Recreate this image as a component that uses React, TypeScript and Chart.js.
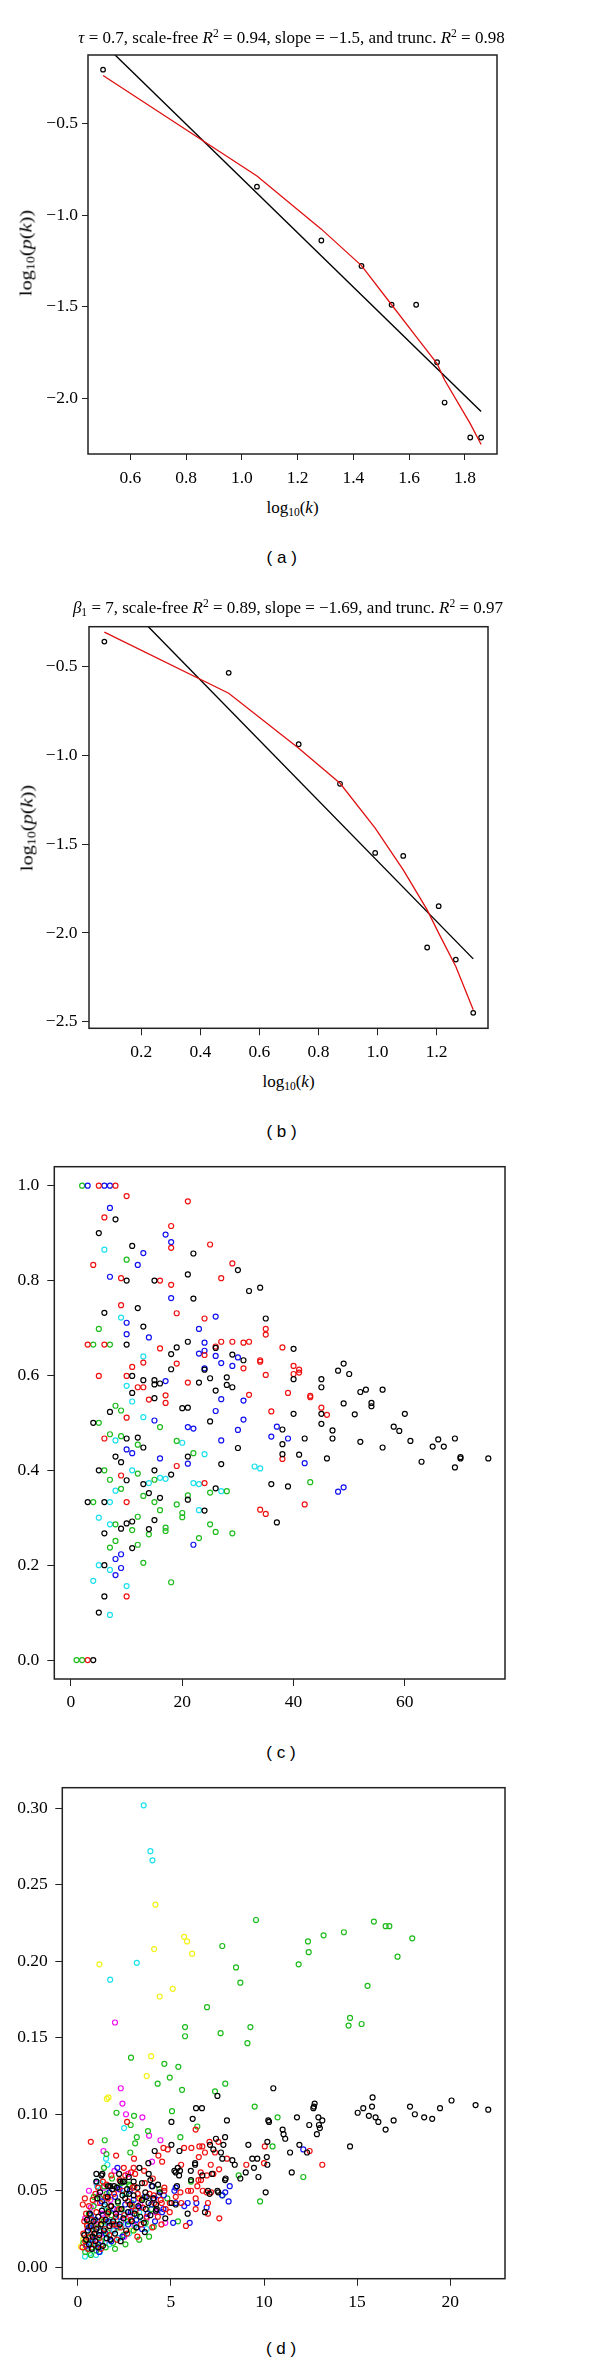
import React, { useEffect, useRef } from "react";
import { Chart, registerables } from "chart.js";

Chart.register(...registerables);

// ---------------- Panel (a) ----------------
const aLogK = [0.502, 1.054, 1.285, 1.429, 1.537, 1.625, 1.7, 1.727, 1.819, 1.858];
const aLogP = [-0.205, -0.844, -1.138, -1.277, -1.489, -1.489, -1.803, -2.023, -2.214, -2.214];
const aTruncFit = [-0.237, -0.786, -1.076, -1.275, -1.489, -1.663, -1.81, -1.9, -2.138, -2.252];
const aScaleFreeX = [0.502, 1.858];
const aScaleFreeY = [-0.061, -2.072];
const aXTicks = [0.6, 0.8, 1.0, 1.2, 1.4, 1.6, 1.8];
const aYTicks = [-2.0, -1.5, -1.0, -0.5];

// ---------------- Panel (b) ----------------
const bLogK = [0.075, 0.496, 0.733, 0.873, 0.992, 1.087, 1.168, 1.207, 1.265, 1.324];
const bLogP = [-0.359, -0.535, -0.937, -1.16, -1.549, -1.566, -2.082, -1.849, -2.15, -2.45];
const bTruncFit = [-0.306, -0.65, -0.96, -1.157, -1.41, -1.645, -1.87, -2.001, -2.189, -2.433];
const bScaleFreeX = [0.075, 1.324];
const bScaleFreeY = [-0.022, -2.146];
const bXTicks = [0.2, 0.4, 0.6, 0.8, 1.0, 1.2];
const bYTicks = [-2.5, -2.0, -1.5, -1.0, -0.5];

// ---------------- Panel (c) ----------------
const cBlack: [number, number][] = [
  [4, 0], [5, 0.9], [8, 0.929], [11, 0.873], [22, 0.857], [30, 0.822], [21, 0.813], [10, 0.8], [15, 0.8],
  [32, 0.778], [34, 0.785], [22, 0.762], [12, 0.742], [6, 0.732], [35, 0.72], [13, 0.703], [10, 0.665],
  [19, 0.659], [21, 0.671], [40, 0.656], [18, 0.645], [26, 0.658], [29, 0.644], [31, 0.632],
  [11, 0.599], [13, 0.59], [15, 0.59], [15, 0.581], [16, 0.583], [18, 0.613], [23, 0.585], [24, 0.612],
  [25, 0.594], [28, 0.596], [28, 0.58], [29, 0.575], [26, 0.568], [40, 0.592], [48, 0.61], [49, 0.625],
  [50, 0.603], [45, 0.592], [45, 0.575], [11, 0.563], [15, 0.552], [20, 0.531], [21, 0.532], [52, 0.565],
  [53, 0.57], [49, 0.541], [54, 0.542], [54, 0.535], [56, 0.57], [7, 0.523], [25, 0.503], [45, 0.519],
  [40, 0.519], [51, 0.518], [60, 0.519], [4, 0.5], [45, 0.498], [38, 0.486], [47, 0.484], [58, 0.492],
  [59, 0.483], [10, 0.467], [12, 0.469], [13, 0.448], [38, 0.455], [42, 0.467], [47, 0.467], [52, 0.46],
  [30, 0.447], [56, 0.448], [61, 0.462], [65, 0.45], [66, 0.465], [67, 0.45], [69, 0.467], [8, 0.429],
  [9, 0.417], [21, 0.429], [27, 0.413], [38, 0.434], [41, 0.433], [46, 0.425], [63, 0.418], [69, 0.406],
  [70, 0.428], [70, 0.425], [75, 0.425], [5, 0.4], [10, 0.379], [15, 0.4], [13, 0.371], [18, 0.391],
  [36, 0.371], [39, 0.366], [26, 0.362], [14, 0.352], [16, 0.342], [21, 0.338], [3, 0.333], [6, 0.333],
  [24, 0.315], [15, 0.295], [11, 0.292], [10, 0.288], [37, 0.29], [9, 0.277], [14, 0.276], [6, 0.267],
  [11, 0.236], [6, 0.2], [6, 0.134], [5, 0.1],
];
const cRed: [number, number][] = [
  [3, 0], [5, 1.0], [8, 1.0], [10, 0.978], [21, 0.967], [6, 0.933], [18, 0.915], [18, 0.869], [25, 0.876],
  [4, 0.833], [29, 0.836], [9, 0.805], [16, 0.8], [18, 0.791], [27, 0.805], [9, 0.748], [19, 0.731],
  [24, 0.72], [35, 0.698], [35, 0.686], [3, 0.665], [6, 0.665], [16, 0.657], [27, 0.671], [29, 0.671],
  [31, 0.669], [32, 0.671], [38, 0.659], [24, 0.643], [26, 0.661], [34, 0.632],
  [5, 0.599], [10, 0.599], [11, 0.618], [13, 0.627], [12, 0.575], [13, 0.575], [19, 0.625], [21, 0.585],
  [31, 0.615], [34, 0.629], [35, 0.601], [40, 0.62], [40, 0.603], [41, 0.612], [41, 0.606], [14, 0.549],
  [17, 0.558], [17, 0.542], [32, 0.559], [39, 0.563], [43, 0.557], [43, 0.554], [10, 0.511], [36, 0.524],
  [45, 0.532], [46, 0.517], [6, 0.467], [38, 0.424], [9, 0.389], [19, 0.409], [24, 0.373], [34, 0.317],
  [35, 0.308], [42, 0.328], [10, 0.333], [10, 0.134],
];
const cGreen: [number, number][] = [
  [1, 0], [2, 0], [2, 1.0], [10, 0.844], [5, 0.698], [4, 0.665], [7, 0.665], [8, 0.536], [9, 0.526],
  [5, 0.5], [16, 0.491], [7, 0.476], [9, 0.472], [12, 0.454], [19, 0.462], [22, 0.436], [6, 0.4],
  [7, 0.38], [12, 0.393], [15, 0.38], [43, 0.375], [28, 0.356], [25, 0.353], [13, 0.346], [21, 0.347],
  [4, 0.333], [15, 0.333], [9, 0.361], [19, 0.328], [16, 0.316], [20, 0.31], [20, 0.301], [12, 0.302],
  [8, 0.286], [25, 0.286], [11, 0.274], [14, 0.265], [17, 0.279], [17, 0.272], [26, 0.27], [29, 0.267],
  [23, 0.257], [8, 0.251], [7, 0.237], [12, 0.243], [13, 0.205], [18, 0.164],
];
const cBlue: [number, number][] = [
  [3, 1.0], [6, 1.0], [7, 1.0], [7, 0.953], [17, 0.897], [18, 0.881], [13, 0.858], [12, 0.833], [7, 0.808],
  [18, 0.763], [26, 0.724], [10, 0.711], [23, 0.698], [10, 0.687], [14, 0.68], [24, 0.669], [23, 0.646],
  [24, 0.652], [26, 0.641], [30, 0.638], [17, 0.588], [24, 0.615], [27, 0.626], [29, 0.62], [27, 0.55],
  [31, 0.547], [15, 0.505], [26, 0.525], [31, 0.507], [21, 0.491], [22, 0.488], [30, 0.485], [37, 0.492],
  [27, 0.463], [36, 0.471], [39, 0.467], [10, 0.444], [11, 0.436], [16, 0.425], [21, 0.414], [42, 0.415],
  [48, 0.355], [49, 0.364], [22, 0.243], [9, 0.223], [8, 0.213], [9, 0.194], [8, 0.179],
];
const cCyan: [number, number][] = [
  [6, 0.865], [9, 0.722], [13, 0.64], [10, 0.578], [11, 0.545], [13, 0.512], [8, 0.463], [20, 0.458],
  [24, 0.434], [11, 0.4], [14, 0.373], [16, 0.384], [17, 0.382], [22, 0.373], [23, 0.371], [33, 0.408],
  [34, 0.404], [27, 0.356], [7, 0.333], [8, 0.357], [23, 0.316], [5, 0.3], [7, 0.286], [5, 0.2], [7, 0.19],
  [4, 0.167], [10, 0.156], [7, 0.095],
];
const cXTicks = [0, 20, 40, 60];
const cYTicks = [0, 0.2, 0.4, 0.6, 0.8, 1.0];

// ---------------- Panel (d) ----------------
const dBlack: [number, number][] = [
  [7.5, 0.112], [10.5, 0.117], [5.03, 0.095], [6.35, 0.104], [6.67, 0.104], [6.17, 0.097], [8.01, 0.096],
  [10.23, 0.096], [10.27, 0.095], [11.0, 0.09], [11.05, 0.087], [11.14, 0.084], [11.77, 0.098],
  [12.68, 0.105], [12.72, 0.107], [12.65, 0.104], [12.43, 0.093], [12.92, 0.098], [12.95, 0.093],
  [13.0, 0.091], [13.13, 0.096], [12.84, 0.087], [15.03, 0.101], [15.33, 0.104], [15.63, 0.099],
  [15.83, 0.111], [15.8, 0.105], [15.99, 0.098], [16.14, 0.095], [16.53, 0.09], [16.96, 0.096],
  [17.84, 0.105], [18.1, 0.1], [18.6, 0.098], [19.03, 0.097], [19.45, 0.104], [20.07, 0.109],
  [21.36, 0.106], [22.04, 0.103], [14.62, 0.079], [11.4, 0.075], [11.49, 0.062], [11.9, 0.08],
  [12.31, 0.075], [10.18, 0.082], [10.15, 0.072], [10.18, 0.067], [10.09, 0.049], [9.16, 0.08],
  [9.37, 0.071], [9.64, 0.071], [9.46, 0.065], [9.7, 0.059], [9.02, 0.062], [8.73, 0.058], [7.91, 0.085],
  [7.42, 0.084], [7.82, 0.08], [7.1, 0.08], [7.28, 0.077], [6.3, 0.068], [6.3, 0.067], [7.69, 0.075],
  [7.76, 0.071], [8.3, 0.07], [8.43, 0.067], [7.21, 0.061], [6.69, 0.06], [6.07, 0.063], [6.08, 0.057],
  [5.37, 0.065], [5.19, 0.063], [5.26, 0.062], [5.49, 0.063], [5.44, 0.06], [5.03, 0.08], [5.46, 0.076],
  [4.13, 0.076], [1.27, 0.06], [1.0, 0.061], [1.32, 0.061], [2.22, 0.061], [2.29, 0.056], [2.42, 0.056],
  [2.5, 0.056], [2.74, 0.059], [3.31, 0.065], [3.81, 0.061], [3.9, 0.057], [3.79, 0.068], [1.0, 0.056],
  [1.63, 0.053], [1.74, 0.053], [1.95, 0.053], [2.76, 0.048], [3.0, 0.056], [3.45, 0.055], [3.63, 0.049],
  [3.7, 0.046], [4.01, 0.053], [4.31, 0.054], [4.4, 0.049], [4.2, 0.041], [4.24, 0.038], [5.03, 0.042],
  [5.33, 0.053], [5.26, 0.041], [4.7, 0.032], [5.9, 0.035], [6.83, 0.036], [7.08, 0.048], [6.99, 0.05],
  [7.5, 0.05], [7.54, 0.049], [7.91, 0.057], [7.94, 0.058],
  [0.35, 0.021], [0.45, 0.018], [0.55, 0.024], [0.6, 0.015], [0.7, 0.027], [0.8, 0.02], [0.85, 0.03],
  [0.95, 0.017], [1.0, 0.025], [1.1, 0.033], [1.15, 0.021], [1.25, 0.028], [1.3, 0.037], [1.4, 0.024],
  [1.5, 0.031], [1.55, 0.019], [1.65, 0.036], [1.7, 0.027], [1.8, 0.04], [1.9, 0.03], [2.0, 0.022],
  [2.05, 0.035], [2.15, 0.043], [2.25, 0.028], [2.35, 0.038], [2.45, 0.032], [2.55, 0.045], [2.6, 0.024],
  [2.7, 0.036], [2.8, 0.041], [2.9, 0.03], [3.0, 0.047], [3.05, 0.035], [3.15, 0.026], [3.25, 0.04],
  [3.35, 0.033], [3.45, 0.044], [3.55, 0.029], [3.65, 0.038], [3.8, 0.042], [3.9, 0.034], [4.05, 0.045],
  [4.2, 0.037], [1.35, 0.014], [2.3, 0.017], [3.6, 0.023],
  [0.5, 0.031], [0.65, 0.035], [0.75, 0.012], [1.05, 0.045], [1.2, 0.049], [1.45, 0.041], [1.6, 0.046],
  [1.85, 0.051], [2.1, 0.052], [2.4, 0.047], [2.65, 0.051], [3.2, 0.052], [1.1, 0.013], [0.9, 0.022],
  [1.75, 0.018],
];
const dRed: [number, number][] = [
  [2.65, 0.095], [6.33, 0.09], [12.45, 0.076], [13.13, 0.067], [10.04, 0.079], [10.0, 0.068], [9.05, 0.067],
  [7.55, 0.082], [7.07, 0.082], [6.83, 0.075], [6.69, 0.079], [6.53, 0.079], [6.5, 0.072], [7.37, 0.075],
  [8.01, 0.071], [7.59, 0.064], [7.14, 0.067], [7.28, 0.061], [6.93, 0.06], [6.6, 0.062], [6.48, 0.057],
  [5.55, 0.067], [6.1, 0.078], [5.71, 0.078], [4.6, 0.078], [4.83, 0.077], [4.33, 0.073], [4.53, 0.069],
  [3.02, 0.071], [2.06, 0.073], [0.7, 0.082], [2.47, 0.065], [2.86, 0.062], [3.0, 0.065], [3.08, 0.061],
  [3.56, 0.063], [4.03, 0.058], [0.38, 0.045], [0.27, 0.041], [1.61, 0.045], [3.04, 0.053], [3.22, 0.048],
  [3.6, 0.055], [4.08, 0.047], [4.65, 0.052], [4.65, 0.05], [4.11, 0.042], [4.51, 0.042], [4.72, 0.038],
  [4.94, 0.042], [4.94, 0.036], [5.51, 0.049], [5.56, 0.042], [5.26, 0.046], [4.49, 0.028], [5.92, 0.05],
  [6.08, 0.05], [5.81, 0.027], [6.33, 0.045], [6.33, 0.038], [6.71, 0.05], [6.99, 0.035], [6.92, 0.049],
  [6.99, 0.042], [7.16, 0.049], [7.6, 0.032], [6.62, 0.057], [6.42, 0.053],
  [0.25, 0.013], [0.3, 0.022], [0.4, 0.017], [0.5, 0.027], [0.55, 0.012], [0.65, 0.02], [0.75, 0.031],
  [0.85, 0.024], [0.9, 0.015], [1.0, 0.036], [1.05, 0.028], [1.15, 0.019], [1.2, 0.042], [1.3, 0.031],
  [1.45, 0.025], [1.5, 0.046], [1.6, 0.035], [1.7, 0.021], [1.75, 0.04], [1.85, 0.028], [1.95, 0.048],
  [2.05, 0.033], [2.1, 0.018], [2.2, 0.038], [2.3, 0.026], [2.4, 0.05], [2.5, 0.034], [2.65, 0.022],
  [2.7, 0.043], [2.85, 0.031], [2.95, 0.052], [3.1, 0.037], [3.2, 0.02], [3.3, 0.045], [3.4, 0.028],
  [3.5, 0.039], [3.7, 0.033], [3.85, 0.048], [4.0, 0.026], [4.3, 0.033], [4.45, 0.044], [0.45, 0.035],
  [0.6, 0.04], [0.8, 0.044], [0.95, 0.048], [1.1, 0.052], [1.35, 0.056], [1.55, 0.054], [1.8, 0.06],
  [2.25, 0.057], [2.55, 0.06], [0.35, 0.03], [1.25, 0.012], [2.0, 0.028], [2.9, 0.04],
];
const dGreen: [number, number][] = [
  [9.57, 0.227], [7.76, 0.21], [8.5, 0.196], [8.73, 0.186], [6.94, 0.17], [5.76, 0.157], [5.76, 0.151],
  [7.67, 0.153], [9.27, 0.157], [11.86, 0.198], [12.36, 0.213], [12.4, 0.206], [13.2, 0.217], [14.29, 0.219],
  [15.9, 0.226], [16.53, 0.223], [16.73, 0.223], [17.96, 0.215], [17.17, 0.203], [15.56, 0.184],
  [14.62, 0.163], [14.54, 0.158], [15.24, 0.159], [9.11, 0.1465], [2.86, 0.137], [4.65, 0.133], [5.4, 0.131],
  [4.94, 0.124], [4.29, 0.12], [7.92, 0.12], [5.6, 0.116], [7.37, 0.115], [2.08, 0.101], [3.02, 0.099],
  [5.06, 0.102], [2.84, 0.093], [6.42, 0.092], [9.5, 0.105], [10.73, 0.098], [12.11, 0.059], [10.46, 0.079],
  [9.79, 0.043], [8.64, 0.06], [5.51, 0.085], [3.77, 0.089], [3.17, 0.085], [3.08, 0.081], [2.82, 0.075],
  [1.45, 0.083], [1.54, 0.074], [1.41, 0.065], [0.86, 0.046], [1.84, 0.058], [1.41, 0.053], [2.13, 0.052],
  [2.16, 0.042], [2.76, 0.054], [2.79, 0.053], [4.38, 0.051], [4.81, 0.045], [5.38, 0.03], [6.08, 0.056],
  [7.78, 0.047],
  [0.3, 0.016], [0.4, 0.01], [0.6, 0.019], [0.75, 0.013], [0.9, 0.022], [1.0, 0.011], [1.1, 0.026],
  [1.25, 0.017], [1.4, 0.03], [1.5, 0.013], [1.6, 0.023], [1.8, 0.034], [1.9, 0.016], [2.0, 0.012],
  [2.15, 0.026], [2.3, 0.038], [2.45, 0.021], [2.56, 0.015], [2.7, 0.03], [2.9, 0.042], [3.0, 0.024],
  [3.17, 0.034], [3.3, 0.018], [3.5, 0.045], [3.65, 0.029], [3.83, 0.02], [3.95, 0.038], [4.08, 0.0265],
  [1.2, 0.045], [0.6, 0.035], [2.6, 0.048],
  [0.5, 0.028], [0.85, 0.04], [1.55, 0.048], [2.35, 0.055], [1.65, 0.037], [0.7, 0.008],
];
const dBlue: [number, number][] = [
  [12.11, 0.077], [2.13, 0.065], [2.25, 0.051], [3.97, 0.053], [4.62, 0.047], [4.1, 0.045], [4.6, 0.038],
  [4.53, 0.036], [5.26, 0.052], [5.19, 0.05], [5.72, 0.04], [5.26, 0.042], [5.12, 0.029], [5.9, 0.042],
  [6.01, 0.029], [6.37, 0.042], [6.92, 0.039], [7.75, 0.047], [7.92, 0.049], [8.16, 0.053], [8.1, 0.043],
  [0.45, 0.014], [0.6, 0.026], [0.8, 0.018], [0.95, 0.031], [1.1, 0.015], [1.2, 0.024], [1.35, 0.034],
  [1.5, 0.022], [1.65, 0.03], [1.8, 0.017], [1.95, 0.038], [2.1, 0.027], [2.25, 0.033], [2.4, 0.02],
  [2.55, 0.041], [2.7, 0.028], [2.85, 0.036], [3.0, 0.044], [3.15, 0.031], [3.3, 0.039], [3.45, 0.025],
  [3.6, 0.046], [3.75, 0.035], [3.95, 0.041], [4.15, 0.03], [4.35, 0.047], [1.15, 0.01], [2.0, 0.046],
  [0.7, 0.034], [1.3, 0.043], [1.7, 0.049], [2.8, 0.05],
];
const dCyan: [number, number][] = [
  [3.54, 0.302], [3.9, 0.272], [4.01, 0.266], [3.17, 0.199], [1.74, 0.188], [2.49, 0.091], [1.52, 0.071],
  [1.59, 0.067], [1.0, 0.056], [1.04, 0.053], [2.52, 0.048],
  [0.39, 0.007], [0.5, 0.012], [0.65, 0.009], [0.75, 0.016], [0.98, 0.008], [1.05, 0.013], [1.1, 0.02],
  [1.2, 0.01], [1.3, 0.017], [1.45, 0.026], [1.55, 0.021], [1.7, 0.015], [1.8, 0.029], [1.95, 0.024],
  [2.1, 0.031], [2.2, 0.019], [2.35, 0.027], [2.5, 0.035], [2.65, 0.03], [2.75, 0.022], [2.95, 0.038],
  [3.1, 0.028], [3.3, 0.036], [3.5, 0.031], [3.7, 0.025], [1.2, 0.055], [0.9, 0.031],
  [0.7, 0.022], [0.85, 0.026], [1.4, 0.04], [1.6, 0.045],
];
const dMagenta: [number, number][] = [
  [2.0, 0.16], [2.31, 0.117], [2.4, 0.107], [2.59, 0.1], [3.47, 0.098], [4.44, 0.083], [3.83, 0.086],
  [3.99, 0.069], [1.38, 0.076], [1.97, 0.063], [2.7, 0.061], [1.14, 0.047], [4.7, 0.029],
  [0.4, 0.032], [0.5, 0.024], [0.7, 0.039], [0.8, 0.012], [0.9, 0.028], [1.05, 0.042], [1.2, 0.021],
  [1.3, 0.035], [1.45, 0.016], [1.6, 0.029], [1.75, 0.044], [1.9, 0.024], [2.1, 0.037], [2.35, 0.03],
  [2.5, 0.02], [2.8, 0.034], [3.05, 0.027], [3.35, 0.041], [3.7, 0.032], [4.2, 0.036],
  [0.6, 0.05], [1.0, 0.055], [1.4, 0.052], [2.2, 0.051],
];
const dYellow: [number, number][] = [
  [4.17, 0.237], [5.71, 0.216], [5.87, 0.213], [4.1, 0.208], [6.14, 0.205], [1.16, 0.198], [5.1, 0.182],
  [4.4, 0.177], [3.94, 0.138], [3.7, 0.125], [1.65, 0.111], [1.56, 0.11],
  [0.16, 0.0135], [0.3, 0.018], [0.7, 0.026], [1.3, 0.03], [1.8, 0.046], [2.3, 0.038], [2.9, 0.024], [3.4, 0.045],
];
const dXTicks = [0, 5, 10, 15, 20];
const dYTicks = [0, 0.05, 0.1, 0.15, 0.2, 0.25, 0.3];

// ---------------- styling ----------------
const SERIF = "'Liberation Serif', 'Times New Roman', serif";
const SANS = "'Liberation Sans', Arial, sans-serif";
const COL = {
  black: "#000000",
  red: "#f01010",
  green: "#1cbc1c",
  blue: "#1010f0",
  cyan: "#1ce0ee",
  magenta: "#f010f0",
  yellow: "#f2f21a",
  fit: "#e01010",
};

const fmtSigned = (d: number) => (v: number) =>
  (v < -1e-9 ? "\u2212" : "") + Math.abs(v).toFixed(d);

const xy = (xs: number[], ys: number[]) => xs.map((x, i) => ({ x, y: ys[i] }));
const pairs = (arr: [number, number][]) => arr.map(([x, y]) => ({ x, y }));

function pointsDs(data: any[], color: string, r: number, bw: number, order: number) {
  return {
    data,
    order,
    showLine: false,
    pointStyle: "circle",
    pointRadius: r,
    pointHoverRadius: r,
    pointBorderWidth: bw,
    pointBorderColor: color,
    pointBackgroundColor: "rgba(0,0,0,0)",
    borderColor: color,
    backgroundColor: "rgba(0,0,0,0)",
  };
}
function lineDs(data: any[], color: string, w: number, order: number) {
  return {
    data,
    order,
    showLine: true,
    borderColor: color,
    borderWidth: w,
    pointRadius: 0,
    pointHoverRadius: 0,
    tension: 0,
    fill: false,
    clip: 0,
  };
}

const boxPlugin = {
  id: "rbox",
  afterDraw(chart: any) {
    const { ctx, chartArea: a } = chart;
    ctx.save();
    ctx.strokeStyle = "#222";
    ctx.lineWidth = 1.5;
    ctx.strokeRect(a.left, a.top, a.right - a.left, a.bottom - a.top);
    ctx.restore();
  },
};

type Area = { left: number; top: number; right: number; bottom: number };
type PanelProps = {
  canvasTop: number;
  canvasHeight: number;
  area: Area;
  xRange: [number, number];
  yRange: [number, number];
  xTicks: number[];
  yTicks: number[];
  xFmt: (v: number) => string;
  yFmt: (v: number) => string;
  tickLen: number;
  xPad: number;
  yPad: number;
  fontSize: number;
  datasets: any[];
};

function Panel(p: PanelProps) {
  const ref = useRef<HTMLCanvasElement>(null);
  useEffect(() => {
    const canvas = ref.current;
    if (!canvas) return;
    const xScaleH = p.canvasTop + p.canvasHeight - p.area.bottom;
    const tickFont = { family: SERIF, size: p.fontSize };
    const chart = new Chart(canvas, {
      type: "scatter",
      data: { datasets: p.datasets },
      options: {
        responsive: false,
        maintainAspectRatio: false,
        animation: false,
        devicePixelRatio: 1,
        events: [],
        layout: {
          autoPadding: false,
          padding: { left: 0, top: p.area.top - p.canvasTop, right: 600 - p.area.right, bottom: 0 },
        },
        plugins: { legend: { display: false }, tooltip: { enabled: false }, title: { display: false } },
        scales: {
          x: {
            type: "linear",
            position: "bottom",
            bounds: "data",
            min: p.xRange[0],
            max: p.xRange[1],
            afterBuildTicks: (s: any) => {
              s.ticks = p.xTicks.map((v) => ({ value: v }));
            },
            afterFit: (s: any) => {
              s.height = xScaleH;
              s.paddingLeft = 0;
              s.paddingRight = 0;
            },
            grid: { display: true, drawOnChartArea: false, drawTicks: true, tickLength: p.tickLen, color: "#222", lineWidth: 1 },
            border: { display: false },
            ticks: {
              autoSkip: false,
              maxRotation: 0,
              minRotation: 0,
              padding: p.xPad,
              color: "#000",
              font: tickFont,
              callback: (v: any) => p.xFmt(Number(v)),
            },
          },
          y: {
            type: "linear",
            position: "left",
            bounds: "data",
            min: p.yRange[0],
            max: p.yRange[1],
            afterBuildTicks: (s: any) => {
              s.ticks = p.yTicks.map((v) => ({ value: v }));
            },
            afterFit: (s: any) => {
              s.width = p.area.left;
              s.paddingTop = 0;
              s.paddingBottom = 0;
            },
            grid: { display: true, drawOnChartArea: false, drawTicks: true, tickLength: p.tickLen, color: "#222", lineWidth: 1 },
            border: { display: false },
            ticks: {
              autoSkip: false,
              padding: p.yPad,
              color: "#000",
              font: tickFont,
              callback: (v: any) => p.yFmt(Number(v)),
            },
          },
        },
      } as any,
      plugins: [boxPlugin],
    });
    return () => chart.destroy();
  }, []);
  return (
    <canvas
      ref={ref}
      width={600}
      height={p.canvasHeight}
      style={{ position: "absolute", left: 0, top: p.canvasTop, width: 600, height: p.canvasHeight }}
    />
  );
}

const Sup = ({ children }: any) => (
  <span style={{ fontSize: "0.68em", position: "relative", top: "-0.5em", lineHeight: 0 }}>{children}</span>
);
const Sub = ({ children }: any) => (
  <span style={{ fontSize: "0.68em", position: "relative", top: "0.3em", lineHeight: 0 }}>{children}</span>
);

function Label({ x, y, children, font = SERIF, size = 17, rotate = false, stretch = 1 }: any) {
  return (
    <div
      style={{
        position: "absolute",
        left: x,
        top: y,
        transform: rotate
          ? `translate(-50%, -50%) rotate(-90deg) scaleX(${stretch})`
          : "translate(-50%, -50%)",
        fontFamily: font,
        fontSize: size,
        lineHeight: 1,
        whiteSpace: "nowrap",
        color: "#000",
      }}
    >
      {children}
    </div>
  );
}

const LogK = () => (
  <span>
    log<Sub>10</Sub>(<i>k</i>)
  </span>
);
const LogPK = () => (
  <span>
    log<Sub>10</Sub>(<i>p</i>(<i>k</i>))
  </span>
);

export default function App() {
  const dsA = [
    lineDs(xy(aLogK, aTruncFit), COL.fit, 1.3, 0),
    lineDs(xy(aScaleFreeX, aScaleFreeY), COL.black, 1.4, 1),
    pointsDs(xy(aLogK, aLogP), COL.black, 2.3, 1.2, 2),
  ];
  const dsB = [
    lineDs(xy(bLogK, bTruncFit), COL.fit, 1.3, 0),
    lineDs(xy(bScaleFreeX, bScaleFreeY), COL.black, 1.4, 1),
    pointsDs(xy(bLogK, bLogP), COL.black, 2.3, 1.2, 2),
  ];
  const dsC = [
    pointsDs(pairs(cBlack), COL.black, 2.5, 1.2, 0),
    pointsDs(pairs(cRed), COL.red, 2.5, 1.2, 1),
    pointsDs(pairs(cBlue), COL.blue, 2.5, 1.2, 2),
    pointsDs(pairs(cGreen), COL.green, 2.5, 1.2, 3),
    pointsDs(pairs(cCyan), COL.cyan, 2.5, 1.2, 4),
  ];
  const dsD = [
    pointsDs(pairs(dBlack), COL.black, 2.5, 1.2, 0),
    pointsDs(pairs(dRed), COL.red, 2.5, 1.2, 1),
    pointsDs(pairs(dBlue), COL.blue, 2.5, 1.2, 2),
    pointsDs(pairs(dGreen), COL.green, 2.5, 1.2, 3),
    pointsDs(pairs(dCyan), COL.cyan, 2.5, 1.2, 4),
    pointsDs(pairs(dMagenta), COL.magenta, 2.5, 1.2, 5),
    pointsDs(pairs(dYellow), COL.yellow, 2.5, 1.2, 6),
  ];

  return (
    <div style={{ position: "absolute", left: 0, top: 0, width: 600, height: 2365, background: "#fff", overflow: "hidden" }}>
      <Panel
        canvasTop={0}
        canvasHeight={495}
        area={{ left: 88, top: 55, right: 497, bottom: 454 }}
        xRange={[0.448, 1.915]}
        yRange={[-2.304, -0.125]}
        xTicks={aXTicks}
        yTicks={aYTicks}
        xFmt={fmtSigned(1)}
        yFmt={fmtSigned(1)}
        tickLen={6}
        xPad={7.5}
        yPad={4}
        fontSize={17.5}
        datasets={dsA}
      />
      <Panel
        canvasTop={600}
        canvasHeight={465}
        area={{ left: 89, top: 626.7, right: 488, bottom: 1028.3 }}
        xRange={[0.023, 1.374]}
        yRange={[-2.537, -0.275]}
        xTicks={bXTicks}
        yTicks={bYTicks}
        xFmt={fmtSigned(1)}
        yFmt={fmtSigned(1)}
        tickLen={7}
        xPad={6.5}
        yPad={4.5}
        fontSize={17.5}
        datasets={dsB}
      />
      <Panel
        canvasTop={1150}
        canvasHeight={570}
        area={{ left: 54.3, top: 1166.7, right: 505, bottom: 1679 }}
        xRange={[-3.0, 78.0]}
        yRange={[-0.04, 1.04]}
        xTicks={cXTicks}
        yTicks={cYTicks}
        xFmt={(v: number) => v.toFixed(0)}
        yFmt={(v: number) => v.toFixed(1)}
        tickLen={7}
        xPad={6}
        yPad={8}
        fontSize={17.5}
        datasets={dsC}
      />
      <Panel
        canvasTop={1770}
        canvasHeight={550}
        area={{ left: 62.3, top: 1787.7, right: 505, bottom: 2278.7 }}
        xRange={[-0.83, 22.94]}
        yRange={[-0.0075, 0.3135]}
        xTicks={dXTicks}
        yTicks={dYTicks}
        xFmt={(v: number) => v.toFixed(0)}
        yFmt={(v: number) => v.toFixed(2)}
        tickLen={7}
        xPad={6}
        yPad={7.5}
        fontSize={17.5}
        datasets={dsD}
      />

      <Label x={291.5} y={36.5}>
        <i>τ</i> = 0.7, scale-free <i>R</i><Sup>2</Sup> = 0.94, slope = −1.5, and trunc. <i>R</i><Sup>2</Sup> = 0.98
      </Label>
      <Label x={292.5} y={507}>
        <LogK />
      </Label>
      <Label x={26} y={253} rotate stretch={1.2}>
        <LogPK />
      </Label>
      <Label x={281.7} y={556.7} font={SANS}>
        ( a )
      </Label>

      <Label x={288} y={606.7}>
        <i>β</i><Sub>1</Sub> = 7, scale-free <i>R</i><Sup>2</Sup> = 0.89, slope = −1.69, and trunc. <i>R</i><Sup>2</Sup> = 0.97
      </Label>
      <Label x={288.5} y={1080.7}>
        <LogK />
      </Label>
      <Label x={27} y={828} rotate stretch={1.2}>
        <LogPK />
      </Label>
      <Label x={281.5} y={1130.7} font={SANS}>
        ( b )
      </Label>

      <Label x={281} y={1751.7} font={SANS}>
        ( c )
      </Label>
      <Label x={281} y={2348.3} font={SANS}>
        ( d )
      </Label>
    </div>
  );
}
